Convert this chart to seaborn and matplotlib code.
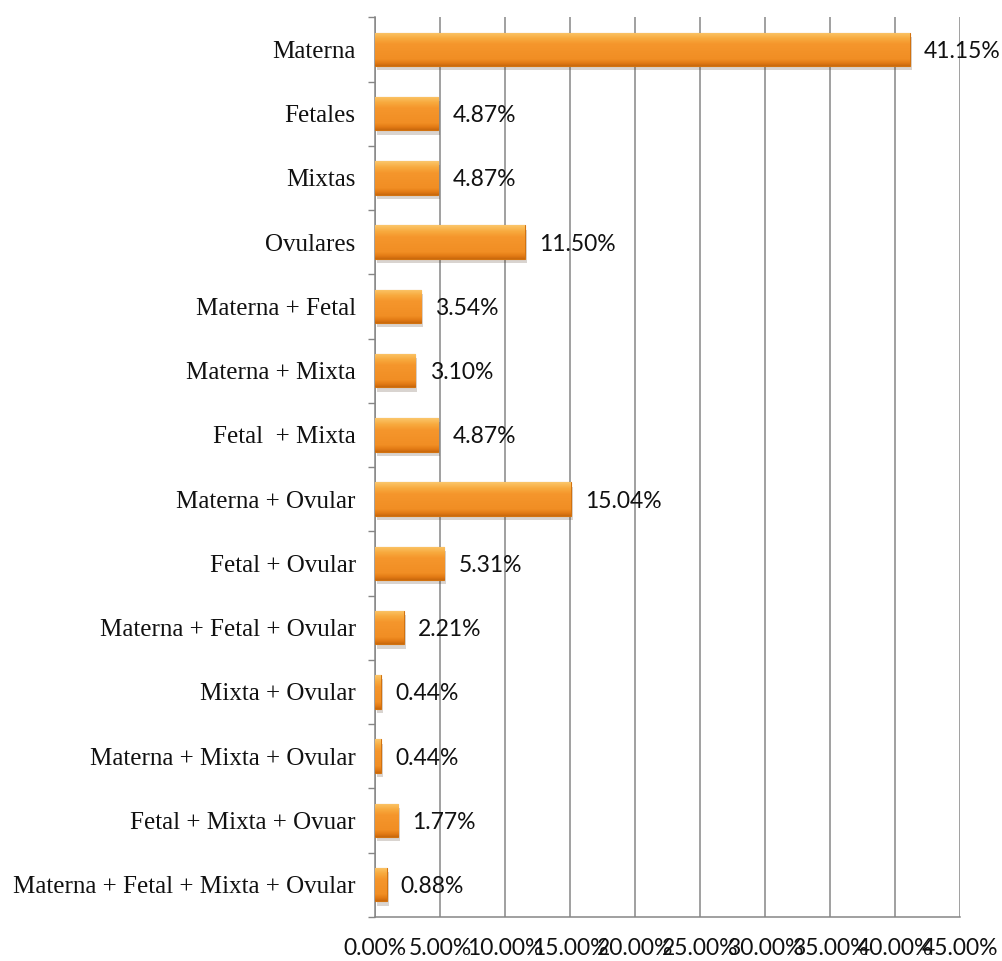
import numpy as np
import pandas as pd
import seaborn as sns
import matplotlib.pyplot as plt
from matplotlib import patheffects
from matplotlib.colors import LinearSegmentedColormap
from matplotlib.ticker import FuncFormatter, FixedLocator

categorias = [
    "Materna", "Fetales", "Mixtas", "Ovulares",
    "Materna + Fetal", "Materna + Mixta", "Fetal  + Mixta",
    "Materna + Ovular", "Fetal + Ovular", "Materna + Fetal + Ovular",
    "Mixta + Ovular", "Materna + Mixta + Ovular", "Fetal + Mixta + Ovuar",
    "Materna + Fetal + Mixta + Ovular",
]
porcentajes = [41.15, 4.87, 4.87, 11.50, 3.54, 3.10, 4.87,
               15.04, 5.31, 2.21, 0.44, 0.44, 1.77, 0.88]
marcas_x = [0, 5, 10, 15, 20, 25, 30, 35, 40, 45]

df = pd.DataFrame({"causa": categorias, "pct": porcentajes})

sns.set_style("white")
gris = "#868686"

fig = plt.figure(figsize=(10.03, 9.61), dpi=100)
ax = fig.add_axes([0.374, 0.046, 0.583, 0.936])

sns.barplot(data=df, x="pct", y="causa", order=categorias, color="#F39229",
            width=0.52, edgecolor="#D2720F", linewidth=0.8, ax=ax, zorder=3)

ax.set_xlim(0, 45)
ax.set_ylim(len(categorias) - 0.5, -0.5)
xl, yl = ax.get_xlim(), ax.get_ylim()

# degradado tipo bisel dentro de cada barra
naranja = LinearSegmentedColormap.from_list(
    "bisel", [(0.0, "#FBC66A"), (0.18, "#F8AA3E"), (0.35, "#F5962C"),
              (0.8, "#F18E24"), (0.92, "#E27A14"), (1.0, "#C9690D")])
grad = np.linspace(0, 1, 64).reshape(-1, 1)
for p in ax.patches:
    x0, y0, w, h = p.get_x(), p.get_y(), p.get_width(), p.get_height()
    im = ax.imshow(grad, cmap=naranja, aspect="auto", origin="upper",
                   extent=(x0, x0 + w, y0 + h, y0), zorder=3.5)
    im.set_clip_path(p)
    p.set_path_effects([patheffects.SimplePatchShadow(offset=(1.5, -3), alpha=0.2),
                        patheffects.Normal()])
ax.set_xlim(xl)
ax.set_ylim(yl)

for i, v in enumerate(porcentajes):
    ax.text(v + 1.1, i + 0.03, f"{v:.2f}%", va="center", ha="left",
            family="Lato", fontsize=16.5, color="#111111", zorder=5)

ax.set_xticks(marcas_x)
ax.xaxis.set_major_formatter(FuncFormatter(lambda v, _: f"{v:.2f}%"))
ax.tick_params(axis="x", length=6, width=1, color=gris, pad=9,
               labelsize=16.5, labelcolor="#111111")
for t in ax.get_xticklabels():
    t.set_family("Lato")

ax.tick_params(axis="y", which="major", length=0, pad=14,
               labelsize=18, labelcolor="#111111")
for t in ax.get_yticklabels():
    t.set_family("Liberation Serif")
ax.yaxis.set_minor_locator(FixedLocator(np.arange(-0.5, len(categorias), 1.0)))
ax.tick_params(axis="y", which="minor", length=5, width=1, color=gris, left=True)

ax.grid(axis="x", color=gris, linewidth=1.1, zorder=0)
ax.set_axisbelow(True)
for s in ["top", "right"]:
    ax.spines[s].set_visible(False)
for s in ["left", "bottom"]:
    ax.spines[s].set_color(gris)
    ax.spines[s].set_linewidth(1.1)

ax.set_xlabel("")
ax.set_ylabel("")

fig.savefig("out.png", dpi=100)
